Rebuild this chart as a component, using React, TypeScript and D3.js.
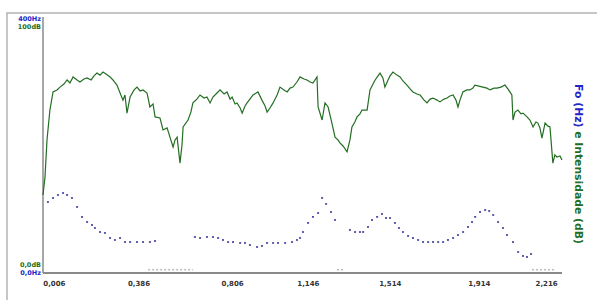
import { scaleLinear, line, curveLinear, formatLocale } from "d3";

// intensity track: [time (s), dB]
const intensity: [number, number][] = [
  [0.0, 30.6], [0.009, 37.6], [0.018, 52.2], [0.031, 63.9], [0.045, 71.0], [0.063, 71.8],
  [0.076, 72.9], [0.094, 74.1], [0.108, 75.7], [0.121, 74.5], [0.135, 76.9], [0.153, 75.7],
  [0.166, 74.9], [0.184, 76.1], [0.198, 76.5], [0.216, 75.7], [0.229, 77.3], [0.242, 78.4],
  [0.256, 77.6], [0.269, 78.8], [0.283, 78.0], [0.301, 76.9], [0.314, 75.7], [0.332, 73.7],
  [0.346, 70.6], [0.359, 67.8], [0.368, 69.8], [0.377, 62.7], [0.391, 69.0], [0.409, 71.8],
  [0.422, 72.9], [0.436, 71.4], [0.449, 71.8], [0.467, 70.6], [0.48, 65.1], [0.494, 66.3],
  [0.503, 61.2], [0.525, 60.8], [0.539, 56.1], [0.557, 56.9], [0.57, 53.3], [0.584, 49.4],
  [0.593, 52.2], [0.602, 53.3], [0.615, 43.1], [0.624, 50.2], [0.629, 57.3], [0.651, 60.0],
  [0.664, 63.1], [0.673, 66.7], [0.691, 68.2], [0.705, 69.8], [0.723, 68.6], [0.736, 69.0],
  [0.75, 66.7], [0.763, 69.0], [0.781, 70.6], [0.795, 71.8], [0.813, 70.2], [0.826, 71.0],
  [0.84, 68.2], [0.849, 69.0], [0.862, 66.3], [0.871, 66.7], [0.885, 64.7], [0.894, 62.7],
  [0.907, 65.5], [0.916, 66.7], [0.929, 68.2], [0.943, 69.8], [0.965, 71.0], [0.983, 67.8],
  [0.997, 65.5], [1.006, 63.1], [1.019, 64.7], [1.033, 66.7], [1.051, 69.8], [1.064, 72.9],
  [1.082, 71.8], [1.096, 71.0], [1.109, 72.5], [1.122, 72.9], [1.14, 74.9], [1.154, 76.9],
  [1.172, 76.1], [1.185, 75.7], [1.199, 74.9], [1.212, 74.5], [1.23, 76.9], [1.235, 65.1],
  [1.253, 60.0], [1.266, 66.7], [1.28, 65.1], [1.297, 58.8], [1.311, 53.3], [1.324, 52.2],
  [1.333, 51.0], [1.347, 49.8], [1.365, 47.5], [1.378, 52.2], [1.387, 57.3], [1.4, 59.2],
  [1.41, 61.2], [1.423, 62.4], [1.432, 63.9], [1.455, 63.9], [1.468, 71.8], [1.477, 73.3],
  [1.491, 75.7], [1.504, 77.3], [1.513, 78.4], [1.526, 76.5], [1.535, 72.9], [1.549, 75.7],
  [1.558, 77.3], [1.571, 78.8], [1.589, 77.6], [1.603, 76.9], [1.616, 75.3], [1.634, 73.7],
  [1.648, 72.2], [1.661, 71.0], [1.679, 70.2], [1.693, 69.8], [1.711, 67.8], [1.724, 66.7],
  [1.738, 68.2], [1.751, 68.6], [1.769, 67.8], [1.782, 67.1], [1.8, 68.2], [1.814, 68.6],
  [1.827, 69.4], [1.841, 69.8], [1.854, 67.8], [1.863, 65.1], [1.872, 67.8], [1.885, 71.0],
  [1.903, 71.8], [1.917, 71.8], [1.93, 72.5], [1.939, 73.7], [1.957, 73.3], [1.975, 72.9],
  [1.993, 72.5], [2.007, 71.8], [2.025, 72.5], [2.038, 72.5], [2.056, 72.9], [2.074, 73.7],
  [2.087, 72.2], [2.096, 71.0], [2.105, 69.8], [2.11, 60.0], [2.119, 63.1], [2.132, 63.9],
  [2.146, 62.4], [2.155, 62.7], [2.173, 61.2], [2.186, 60.0], [2.2, 57.3], [2.213, 59.2],
  [2.222, 58.8], [2.231, 56.9], [2.24, 52.9], [2.254, 58.8], [2.267, 57.6], [2.276, 57.3],
  [2.289, 43.1], [2.298, 46.3], [2.307, 45.5], [2.321, 45.9], [2.33, 44.3],
];

// pitch track: [time (s), Hz]
const pitch: [number, number][] = [
  [0.022, 111.4], [0.045, 117.7], [0.067, 122.4], [0.09, 125.5], [0.108, 122.4], [0.13, 117.7],
  [0.153, 103.6], [0.175, 87.9], [0.198, 80.0], [0.22, 75.3], [0.233, 70.6], [0.256, 64.3],
  [0.278, 62.8], [0.301, 54.9], [0.323, 51.8], [0.346, 54.9], [0.368, 48.6], [0.391, 48.6],
  [0.422, 48.6], [0.449, 48.6], [0.48, 48.6], [0.503, 50.2],
  [0.682, 56.5], [0.705, 54.9], [0.736, 56.5], [0.763, 56.5], [0.786, 54.9], [0.808, 51.8],
  [0.831, 48.6], [0.853, 48.6], [0.885, 47.1], [0.907, 47.1], [0.929, 43.9], [0.961, 40.8],
  [0.983, 42.4], [1.006, 47.1], [1.033, 47.1], [1.055, 47.1], [1.087, 47.1], [1.118, 48.6],
  [1.14, 51.8], [1.154, 54.9], [1.167, 64.3], [1.19, 78.5], [1.212, 88.0], [1.235, 94.1],
  [1.253, 117.7], [1.271, 108.3], [1.293, 95.7], [1.311, 83.2],
  [1.378, 67.5], [1.401, 64.3], [1.423, 64.3], [1.437, 64.3], [1.459, 72.2], [1.477, 83.2],
  [1.5, 88.0], [1.522, 92.6], [1.54, 86.3], [1.558, 86.3], [1.58, 78.5], [1.598, 70.6],
  [1.616, 64.3], [1.639, 58.1], [1.661, 54.9], [1.684, 51.8], [1.706, 48.6], [1.729, 48.6],
  [1.751, 48.6], [1.774, 48.6], [1.796, 48.6], [1.818, 51.8], [1.841, 54.9], [1.863, 59.6],
  [1.886, 64.3], [1.908, 72.2], [1.926, 80.0], [1.94, 88.0], [1.962, 95.7], [1.985, 98.8],
  [2.003, 97.3], [2.021, 91.0], [2.043, 80.0], [2.065, 70.6], [2.083, 59.6], [2.11, 48.6],
  [2.133, 33.0], [2.155, 26.7], [2.173, 25.1], [2.191, 29.8],
];

// small marked stretches just above the time axis
const marks: [number, number][] = [
  [0.472, 0.673],
  [1.32, 1.347],
  [2.195, 2.303],
];

const timeTicks = [0.006, 0.386, 0.806, 1.146, 1.514, 1.914, 2.216];
const hzLabels = ["400Hz", "0,0Hz"];
const dbLabels = ["100dB", "0,0dB"];

const W = 597;
const H = 300;
const left = 43;
const right = 562;
const top = 18;
const bottom = 273;

const green = "#236e23";
const blue = "#2323c8";
const dotBlue = "#2b2b96";

const fmt = formatLocale({
  decimal: ",",
  thousands: ".",
  grouping: [3],
  currency: ["", ""],
}).format(".3f");

export default function App() {
  const x = scaleLinear().domain([0, 2.33]).range([left, right]);
  const yDb = scaleLinear().domain([0, 100]).range([bottom, top]);
  const yHz = scaleLinear().domain([0, 400]).range([bottom, top]);

  const dbLine = line<[number, number]>()
    .x((d) => x(d[0]))
    .y((d) => yDb(d[1]))
    .curve(curveLinear);

  const labelFont = "DejaVu Sans, sans-serif";

  return (
    <svg
      width={W}
      height={H}
      style={{ position: "absolute", left: 0, top: 0, background: "#fff" }}
    >
      <rect
        x={7}
        y={13}
        width={W + 20}
        height={H + 20}
        fill="none"
        stroke="#b4b4b4"
        strokeWidth={1.5}
      />

      {/* axes */}
      <line x1={left} x2={left} y1={top - 1} y2={bottom} stroke="#8a8a8a" strokeWidth={1.5} />
      <line x1={left} x2={right} y1={bottom} y2={bottom} stroke="#8a8a8a" strokeWidth={2} />

      {/* y labels */}
      <text x={41} y={yHz(400) + 3} textAnchor="end" fontSize={6.5} fontWeight="bold" fontFamily={labelFont} fill={blue}>
        {hzLabels[0]}
      </text>
      <text x={41} y={yDb(100) + 11} textAnchor="end" fontSize={6.5} fontWeight="bold" fontFamily={labelFont} fill={green}>
        {dbLabels[0]}
      </text>
      <text x={41} y={yDb(0) - 6} textAnchor="end" fontSize={6.5} fontWeight="bold" fontFamily={labelFont} fill={green}>
        {dbLabels[1]}
      </text>
      <text x={41} y={yHz(0) + 2} textAnchor="end" fontSize={6.5} fontWeight="bold" fontFamily={labelFont} fill={blue}>
        {hzLabels[1]}
      </text>

      {/* time labels */}
      {timeTicks.map((t) => (
        <text
          key={t}
          x={x(t) - 1}
          y={bottom + 13}
          fontSize={7}
          fontWeight="bold"
          fontFamily={labelFont}
          fill="#333"
        >
          {fmt(t)}
        </text>
      ))}

      {/* marked stretches */}
      {marks.map(([a, b]) => (
        <line
          key={a}
          x1={x(a)}
          x2={x(b)}
          y1={yHz(5)}
          y2={yHz(5)}
          stroke="#9a9a9a"
          strokeWidth={1}
          strokeDasharray="2,2"
        />
      ))}

      {/* intensity */}
      <path d={dbLine(intensity) ?? ""} fill="none" stroke={green} strokeWidth={1.2} />

      {/* pitch */}
      {pitch.map(([t, hz]) => (
        <rect
          key={t}
          x={x(t) - 1}
          y={yHz(hz) - 0.75}
          width={2}
          height={1.5}
          fill={dotBlue}
        />
      ))}

      {/* right title */}
      <text
        transform={`translate(575, 164) rotate(90)`}
        textAnchor="middle"
        fontSize={10.8}
        fontWeight="bold"
        fontFamily={labelFont}
      >
        <tspan fill={blue}>Fo (Hz)</tspan>
        <tspan fill={green}> e Intensidade (dB)</tspan>
      </text>
    </svg>
  );
}
